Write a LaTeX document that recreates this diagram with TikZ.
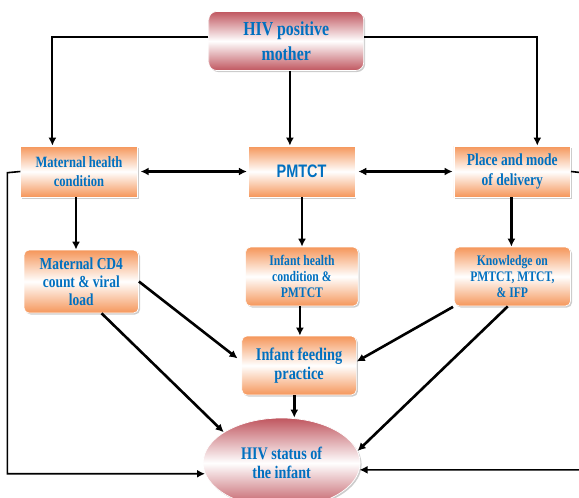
\documentclass[tikz,border=0pt]{standalone}
\usepackage{fontspec}
\setmainfont{Liberation Serif}[FakeStretch=0.8]
\newfontfamily\pmfont{Liberation Sans}[FakeStretch=0.8]
\usetikzlibrary{shadows,arrows.meta,calc,shapes.geometric}
\definecolor{orangeB}{HTML}{F5965A}
\definecolor{redB}{HTML}{C0565F}
\definecolor{txtB}{HTML}{0070C0}
\tikzset{
  base/.style={draw=white, line width=0.7pt, text=txtB, align=center, inner sep=1pt,
    drop shadow={shadow xshift=1.5pt, shadow yshift=-1.5pt, fill=black!40, opacity=0.5}},
  obox/.style={base, rectangle, top color=orangeB, bottom color=orangeB, middle color=white},
  rbox/.style={base, top color=redB, bottom color=redB, middle color=white},
  arr/.style={-{Latex[length=8pt,width=8pt]}, line width=2.6pt},
  darr/.style={{Latex[length=8pt,width=8pt]}-{Latex[length=8pt,width=8pt]}, line width=2.6pt},
  fs/.style n args={2}{font=\fontsize{#1}{#2}\selectfont\bfseries}
}
\begin{document}
\begin{tikzpicture}[x=1pt,y=-1pt]
\useasboundingbox (0,0) rectangle (579,498);
% nodes
\node[rbox, rounded corners=8pt, minimum width=155pt, minimum height=59pt, fs={19.8}{25}] (top) at (286.2,41) {HIV positive\\mother};
\node[obox, minimum width=116.6pt, minimum height=51pt, fs={15.7}{19}] (MH) at (79,171.5) {Maternal health\\condition};
\node[obox, minimum width=106.7pt, minimum height=51pt, font=\pmfont\fontsize{18.1}{20}\selectfont\bfseries] (PM) at (301.6,171.5) {PMTCT};
\node[obox, minimum width=116.7pt, minimum height=51pt, fs={16.9}{20}] (PL) at (512.3,171.5) {Place and mode\\of delivery};
\node[obox, rounded corners=5pt, minimum width=114.5pt, minimum height=63pt, fs={16.8}{18}] (CD) at (81.3,281.5) {Maternal CD4\\count \& viral\\load};
\node[obox, rounded corners=5pt, minimum width=112.6pt, minimum height=59pt, fs={14.6}{16}] (IH) at (301.9,276.5) {Infant health\\condition \&\\PMTCT};
\node[obox, rounded corners=5pt, minimum width=116.3pt, minimum height=59pt, fs={14.6}{16}] (KN) at (512.4,276.5) {Knowledge on\\PMTCT, MTCT,\\\& IFP};
\node[obox, rounded corners=5pt, minimum width=114.5pt, minimum height=59pt, fs={17.9}{19}] (IF) at (299.1,365.5) {Infant feeding\\practice};
\node[rbox, ellipse, minimum width=157pt, minimum height=90pt, inner sep=0pt, fs={17.7}{19}] (HS) at (281.6,463) {HIV status of\\the infant};
% connectors
\draw[arr, line width=2pt] ([yshift=4pt]top.west) -| ([xshift=-26.6pt]MH.north);
\draw[arr, line width=2pt] ([yshift=4pt]top.east) -| ([xshift=25pt]PL.north);
\draw[arr] ([xshift=3.7pt]top.south) -- ([xshift=3.7pt]top.south |- PM.north);
\draw[darr, shorten <=3pt, shorten >=1pt] (MH.east) -- (PM.west);
\draw[darr, shorten <=3pt, shorten >=1pt] (PM.east) -- (PL.west);
\coordinate (LL) at (7.3,172.7);
\coordinate (RR) at (582,172.7);
\draw[arr, line width=1.6pt] (MH.west) -- (LL) |- (HS.188);
\draw[arr, line width=1.6pt] (PL.east) -- (RR) |- (HS.355);
\draw[arr] ([xshift=-3pt]MH.south) -- ([xshift=-3pt]MH.south |- CD.north);
\draw[arr] ([xshift=0.4pt]PM.south) -- ([xshift=0.4pt]PM.south |- IH.north);
\draw[arr] ([xshift=-0.9pt]PL.south) -- ([xshift=-0.9pt]PL.south |- KN.north);
\draw[arr] ([xshift=-2pt]IH.south) -- ([xshift=-2pt]IH.south |- IF.north);
\draw[arr, shorten >=5pt] (CD.east) -- ([yshift=4pt]IF.west);
\draw[arr, shorten <=1pt] (KN.south west) -- ([yshift=4pt]IF.east);
\draw[arr] ([xshift=20.3pt]CD.south) -- (HS.152);
\draw[arr] ([xshift=-4.6pt]KN.south) -- (HS.9);
\draw[arr] ([xshift=-4.8pt]IF.south) -- ([xshift=-4.8pt]IF.south |- HS.north);
\end{tikzpicture}
\end{document}
